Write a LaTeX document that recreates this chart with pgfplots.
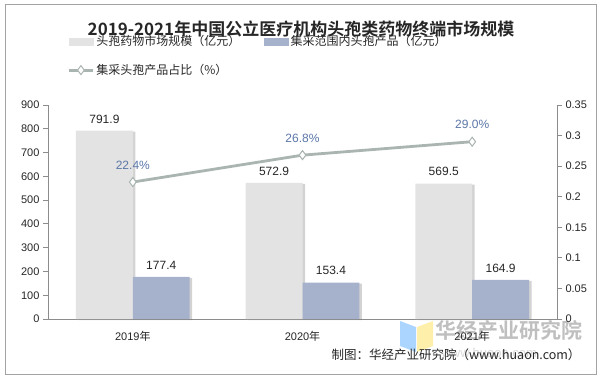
\documentclass[border=0pt]{standalone}
\usepackage{pgfplots}
\pgfplotsset{compat=1.18}
\usepackage{fontspec}
\setmainfont{Liberation Sans}
\newfontfamily\cjk{Noto Sans CJK SC}
\newfontfamily\cjkb{Noto Sans CJK SC Bold}
\usetikzlibrary{shadows}
\definecolor{barA}{HTML}{E2E3E2}
\definecolor{barB}{HTML}{A6B1CB}
\definecolor{lineC}{HTML}{AAB4B1}
\definecolor{lblP}{HTML}{5B76A8}
\definecolor{axisG}{HTML}{8C8C8C}
\definecolor{txt}{HTML}{262626}
\pgfplotsset{longline legend/.style={legend image code/.code={\draw[mark repeat=2,mark phase=2,##1] plot coordinates {(0bp,0bp) (12bp,0bp) (24bp,0bp)};}}}
\begin{document}
\begin{tikzpicture}[x=1bp,y=1bp]
\path[use as bounding box] (0,0) rectangle (602,379);
\draw[color=axisG!80, line width=1bp] (5.5,4.5) rectangle (596.5,374.5);
\node[font=\cjkb\fontsize{17bp}{20bp}\selectfont, text=txt] at (301,350) {2019-2021年中国公立医疗机构头孢类药物终端市场规模};
% watermark
\node[font=\cjkb\fontsize{21bp}{24bp}\selectfont, text=gray, opacity=0.5, anchor=west] at (432,48) {华经产业研究院};
\node[font=\fontsize{13bp}{15bp}\selectfont, text=gray, opacity=0.3, anchor=west] at (438,26) {www.huaon.com};
\fill[blue!50!cyan!60, opacity=0.55] (400,58) -- (416,52) -- (416,27) -- (400,33) -- cycle;
\fill[yellow!70!orange!60, opacity=0.55] (417,52) -- (433,58) -- (433,33) -- (417,27) -- cycle;
% footer
\node[font=\cjk\fontsize{12.5bp}{15bp}\selectfont, text=txt, anchor=east] at (584,24) {制图：华经产业研究院（www.huaon.com）};

\begin{axis}[
  at={(48bp,60bp)}, anchor=south west,
  scale only axis, width=509bp, height=214bp,
  xmin=-0.5, xmax=2.5, ymin=0, ymax=900,
  axis x line*=bottom, axis y line*=left,
  axis line style={-, draw=axisG, line width=0.8bp},
  ytick={0,100,...,900},
  xtick={0,1,2},
  xticklabels={2019{\cjk 年},2020{\cjk 年},2021{\cjk 年}},
  x tick label style={font=\fontsize{11bp}{13bp}\selectfont, text=txt, yshift=-4bp},
  y tick label style={font=\fontsize{11bp}{13bp}\selectfont, text=txt},
  /pgf/number format/assume math mode=true,
  major x tick style={draw=none},
  extra x ticks={-0.5,0.5,1.5,2.5},
  extra x tick labels={},
  extra x tick style={major tick style={draw=axisG, line width=0.8bp}, major tick length=5bp, tick align=outside},
  major tick length=5bp,
  tick align=outside,
  ytick style={draw=axisG, line width=0.8bp},
  ybar, bar width=0.335,
  nodes near coords,
  every node near coord/.append style={font=\fontsize{12bp}{14bp}\selectfont, text=txt, anchor=south, yshift=4bp},
  nodes near coords style={/pgf/number format/.cd, fixed, fixed zerofill, precision=1},
  clip=false,
]
\addplot[fill=barA, draw=none, bar shift=-0.1675,
  /tikz/drop shadow={shadow xshift=2.5bp, shadow yshift=-1bp, opacity=0.35, fill=gray}]
  coordinates {(0,791.9) (1,572.9) (2,569.5)};
\addplot[fill=barB, draw=none, bar shift=0.1675,
  /tikz/drop shadow={shadow xshift=2.5bp, shadow yshift=-1bp, opacity=0.35, fill=gray}]
  coordinates {(0,177.4) (1,153.4) (2,164.9)};
\end{axis}

\begin{axis}[
  at={(48bp,60bp)}, anchor=south west,
  scale only axis, width=509bp, height=214bp,
  xmin=-0.5, xmax=2.5, ymin=0, ymax=0.35,
  axis y line*=right, axis x line=none,
  axis line style={-, draw=axisG, line width=0.8bp},
  ytick={0,0.05,0.1,0.15,0.2,0.25,0.3,0.35},
  yticklabels={0,0.05,0.1,0.15,0.2,0.25,0.3,0.35},
  y tick label style={font=\fontsize{11bp}{13bp}\selectfont, text=txt},
  tick align=outside, major tick length=5bp,
  ytick style={draw=axisG, line width=0.8bp},
  clip=false,
  legend columns=2,
  legend cell align=left,
  legend style={draw=none, fill=none, at={(axis description cs:0.038,1.335)}, anchor=north west,
    font=\cjk\fontsize{12bp}{14bp}\selectfont, text=txt,
    /tikz/every even column/.append style={column sep=22bp},
    row sep=13bp, inner sep=0pt},
]
\addlegendimage{legend image code/.code={\fill[barA] (0bp,-3.5bp) rectangle (24bp,3.5bp);}}
\addlegendentry{头孢药物市场规模（亿元）}
\addlegendimage{legend image code/.code={\fill[barB] (0bp,-3.5bp) rectangle (24bp,3.5bp);}}
\addlegendentry{集采范围内头孢产品（亿元）}
\addplot[lineC, line width=2.8bp, mark=diamond*, mark size=4.5bp,
  mark options={fill=white, draw=lineC, line width=1bp},
  longline legend,
  point meta=explicit symbolic,
  nodes near coords,
  every node near coord/.append style={font=\fontsize{12bp}{14bp}\selectfont, text=lblP, anchor=south, yshift=9bp}]
  coordinates {(0,0.224) [22.4\%] (1,0.268) [26.8\%] (2,0.290) [29.0\%]};
\addlegendentry{集采头孢产品占比（\%）}
\end{axis}
\end{tikzpicture}
\end{document}
